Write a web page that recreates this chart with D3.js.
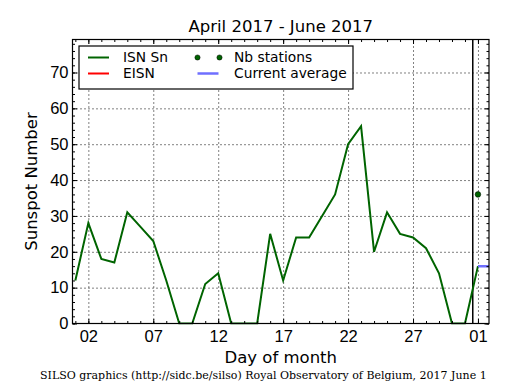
<!DOCTYPE html>
<html>
<head>
<meta charset="utf-8">
<script src="https://cdn.jsdelivr.net/npm/d3@7"></script>
<style>
  body { margin: 0; background: #fff; }
  svg { display: block; font-family: "DejaVu Sans", sans-serif; }
  .axis path { display: none; }
  .axis line { stroke: #000; stroke-width: 1; }
  .axis text { font-size: 16.5px; fill: #000; }
  .grid line { stroke: #000; stroke-width: 1; stroke-dasharray: 1, 3; }
  .grid path { display: none; }
</style>
</head>
<body>
<div id="chart"></div>
<script>
// Daily values, May 2017 (day 32 = June 1)
var days = [1, 2, 3, 4, 5, 6, 7, 8, 9, 10, 11, 12, 13, 14, 15, 16, 17, 18, 19, 20, 21, 22, 23, 24, 25, 26, 27, 28, 29, 30, 31, 32];
var isnSn = [12, 28, 18, 17, 31, 27, 23, 12, 0, 0, 11, 14, 0, 0, 0, 25, 12, 24, 24, 30, 36, 50, 55, 20, 31, 25, 24, 21, 14, 0, 0, 16];

// Provisional points (last day)
var nbStationDays = [32];
var nbStations = [36];
var averageDays = [32, 32.85];
var currentAverage = [16, 16];
var monthMarker = [31.6];

var xTickValues = [2, 7, 12, 17, 22, 27, 32];
var xTickLabels = ["02", "07", "12", "17", "22", "27", "01"];
var yTickValues = [0, 10, 20, 30, 40, 50, 60, 70];

var legendItems = [
  { label: "ISN Sn", type: "line", color: "#006400" },
  { label: "EISN", type: "line", color: "#ff0000" },
  { label: "Nb stations", type: "dots", color: "#006400" },
  { label: "Current average", type: "line", color: "#6f6fff" },
];

var width = 515;
var height = 390;
var margins = { top: 39.5, right: 26, bottom: 66.5, left: 72.5 };
var chartWidth = width - margins.left - margins.right;
var chartHeight = height - margins.top - margins.bottom;

var svg = d3.select("#chart").append("svg")
  .attr("width", width)
  .attr("height", height);

var chartElement = svg.append("g")
  .attr("transform", `translate(${margins.left},${margins.top})`);

var xScale = d3.scaleLinear().domain([0.78, 32.85]).range([0, chartWidth]);
var yScale = d3.scaleLinear().domain([0, 79.2]).range([chartHeight, 0]);

var minorX = d3.range(1, 33);
var minorY = d3.range(0, 80, 2);

// grid
chartElement.append("g").attr("class", "grid")
  .attr("transform", `translate(0,${chartHeight})`)
  .call(d3.axisBottom(xScale).tickValues(xTickValues).tickSize(-chartHeight).tickFormat(""));
chartElement.append("g").attr("class", "grid")
  .call(d3.axisLeft(yScale).tickValues(yTickValues.slice(1)).tickSize(-chartWidth).tickFormat(""));

// clip for data
svg.append("clipPath").attr("id", "plot-clip")
  .append("rect").attr("width", chartWidth).attr("height", chartHeight + 2).attr("y", -1);

var plot = chartElement.append("g").attr("clip-path", "url(#plot-clip)");

// month marker
plot.selectAll(".marker").data(monthMarker).enter().append("line")
  .attr("x1", d => xScale(d)).attr("x2", d => xScale(d))
  .attr("y1", 0).attr("y2", chartHeight)
  .attr("stroke", "#000").attr("stroke-width", 1.5);

var line = d3.line().x(d => xScale(d[0])).y(d => yScale(d[1]));

plot.append("path")
  .datum(days.map((d, i) => [d, isnSn[i]]))
  .attr("d", line)
  .attr("fill", "none")
  .attr("stroke", "#006400")
  .attr("stroke-width", 2);

plot.append("path")
  .datum(averageDays.map((d, i) => [d, currentAverage[i]]))
  .attr("d", line)
  .attr("fill", "none")
  .attr("stroke", "#6f6fff")
  .attr("stroke-width", 2.5);

plot.selectAll(".nb").data(nbStationDays).enter().append("circle")
  .attr("cx", d => xScale(d))
  .attr("cy", (d, i) => yScale(nbStations[i]))
  .attr("r", 2.8)
  .attr("fill", "#006400")
  .attr("stroke", "#000")
  .attr("stroke-width", 0.5);

// axes, ticks pointing inward on all sides
function drawAxis(axis, transform, labels) {
  var g = chartElement.append("g").attr("class", "axis").attr("transform", transform).call(axis);
  if (!labels) g.selectAll("text").remove();
  return g;
}

var fmtX = d => xTickLabels[xTickValues.indexOf(d)];

drawAxis(d3.axisBottom(xScale).tickValues(xTickValues).tickSize(-4.5).tickPadding(7).tickFormat(fmtX),
  `translate(0,${chartHeight})`, true);
drawAxis(d3.axisBottom(xScale).tickValues(minorX).tickSize(-2.5).tickFormat(""), `translate(0,${chartHeight})`);
drawAxis(d3.axisTop(xScale).tickValues(xTickValues).tickSize(-4.5).tickFormat(""), "translate(0,0)");
drawAxis(d3.axisTop(xScale).tickValues(minorX).tickSize(-2.5).tickFormat(""), "translate(0,0)");

drawAxis(d3.axisLeft(yScale).tickValues(yTickValues).tickSize(-4.5).tickPadding(4).tickFormat(d => d),
  "translate(0,0)", true);
drawAxis(d3.axisLeft(yScale).tickValues(minorY).tickSize(-2.5).tickFormat(""), "translate(0,0)");
drawAxis(d3.axisRight(yScale).tickValues(yTickValues).tickSize(-4.5).tickFormat(""), `translate(${chartWidth},0)`);
drawAxis(d3.axisRight(yScale).tickValues(minorY).tickSize(-2.5).tickFormat(""), `translate(${chartWidth},0)`);

// frame
chartElement.append("rect")
  .attr("width", chartWidth).attr("height", chartHeight)
  .attr("fill", "none").attr("stroke", "#000").attr("stroke-width", 1.2);

// legend
var legend = chartElement.append("g").attr("transform", "translate(6.5,6.5)");
legend.append("rect")
  .attr("width", 274).attr("height", 43)
  .attr("fill", "#fff").attr("stroke", "#000").attr("stroke-width", 1.2);

var legendEntry = legend.selectAll(".entry").data(legendItems).enter().append("g")
  .attr("transform", (d, i) => `translate(${i < 2 ? 9 : 118.5},${i % 2 === 0 ? 11.5 : 27.5})`);

legendEntry.filter(d => d.type === "line").append("line")
  .attr("x1", 0).attr("x2", 21)
  .attr("stroke", d => d.color)
  .attr("stroke-width", d => d.label === "Current average" ? 2.5 : 2);

legendEntry.filter(d => d.type === "dots").selectAll("circle")
  .data(d => [0, 22].map(x => ({ x: x, color: d.color })))
  .enter().append("circle")
  .attr("cx", d => d.x).attr("r", 2.6)
  .attr("fill", d => d.color).attr("stroke", "#000").attr("stroke-width", 0.5);

legendEntry.append("text")
  .attr("x", (d, i) => i < 2 ? 35 : 36.5)
  .attr("dy", "0.36em")
  .attr("font-size", "13.8px")
  .text(d => d.label);

// titles
svg.append("text")
  .attr("x", margins.left + chartWidth / 2).attr("y", 32)
  .attr("text-anchor", "middle").attr("font-size", "16.5px")
  .text("April 2017 - June 2017");

svg.append("text")
  .attr("x", margins.left + chartWidth / 2).attr("y", 363)
  .attr("text-anchor", "middle").attr("font-size", "16.5px")
  .text("Day of month");

svg.append("text")
  .attr("transform", `translate(37,${margins.top + chartHeight / 2}) rotate(-90)`)
  .attr("text-anchor", "middle").attr("font-size", "16.5px")
  .text("Sunspot Number");

svg.append("text")
  .attr("x", 40).attr("y", 379)
  .attr("font-family", "'DejaVu Serif', serif").attr("font-size", "11px")
  .text("SILSO graphics (http://sidc.be/silso) Royal Observatory of Belgium, 2017 June 1");
</script>
</body>
</html>
